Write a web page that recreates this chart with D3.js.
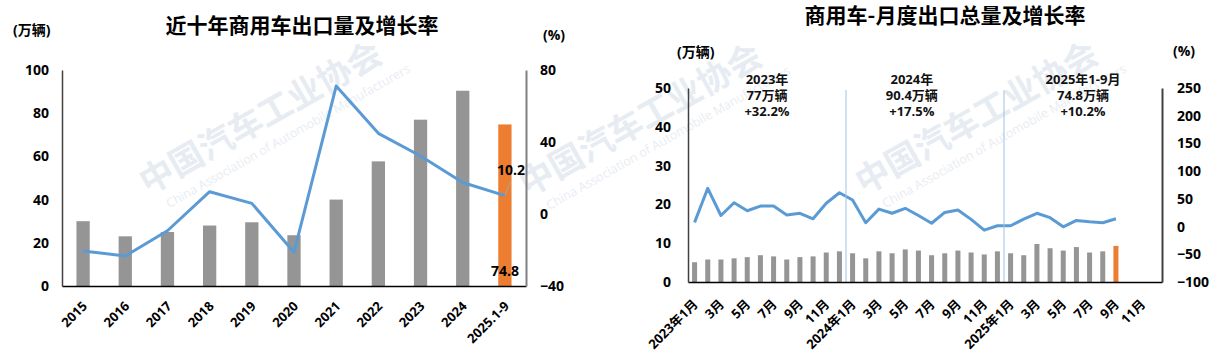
<!DOCTYPE html>
<html>
<head>
<meta charset="utf-8">
<script src="https://cdn.jsdelivr.net/npm/d3@7"></script>
<style>
  body { margin: 0; background: #fff; }
  svg { display: block; }
</style>
</head>
<body>
<svg id="page" width="1219" height="354"></svg>
<script>
// ---- yearly chart data
const years = ['2015', '2016', '2017', '2018', '2019', '2020', '2021', '2022', '2023', '2024', '2025.1-9'];
const yearlyVolume = [30, 23, 25, 28, 29.5, 23.5, 40, 57.7, 77, 90.4, 74.8];
const yearlyGrowth = [-20.5, -23.3, -9.3, 12.4, 5.9, -21.3, 71.1, 44.8, 32.2, 17.5, 10.2];
const yearlyLeftTicks = [0, 20, 40, 60, 80, 100];
const yearlyRightTicks = [-40, 0, 40, 80];

// ---- monthly chart data
const months = [
  '2023-01', '2023-02', '2023-03', '2023-04', '2023-05', '2023-06', '2023-07', '2023-08', '2023-09', '2023-10', '2023-11', '2023-12',
  '2024-01', '2024-02', '2024-03', '2024-04', '2024-05', '2024-06', '2024-07', '2024-08', '2024-09', '2024-10', '2024-11', '2024-12',
  '2025-01', '2025-02', '2025-03', '2025-04', '2025-05', '2025-06', '2025-07', '2025-08', '2025-09', '2025-10', '2025-11', '2025-12'
];
const monthTicks = ['2023-01', '2023-03', '2023-05', '2023-07', '2023-09', '2023-11',
  '2024-01', '2024-03', '2024-05', '2024-07', '2024-09', '2024-11',
  '2025-01', '2025-03', '2025-05', '2025-07', '2025-09', '2025-11'];
const monthTickLabels = ['2023年1月', '3月', '5月', '7月', '9月', '11月',
  '2024年1月', '3月', '5月', '7月', '9月', '11月',
  '2025年1月', '3月', '5月', '7月', '9月', '11月'];
const monthlyVolume = [
  5.1, 5.8, 5.8, 6.1, 6.4, 6.9, 6.6, 5.8, 6.4, 6.6, 7.6, 7.9,
  7.4, 6.1, 7.9, 7.4, 8.4, 8.1, 6.9, 7.4, 8.1, 7.6, 7.1, 7.9,
  7.4, 6.9, 9.8, 8.7, 8.1, 9.0, 7.6, 7.9, 9.3
];
const monthlyGrowth = [
  7.5, 69, 20, 43, 28.5, 37, 37, 21, 24, 14, 42, 61,
  48, 7, 31.5, 24, 33, 20, 6, 25.5, 30, 13, -6.5, 1.5,
  1.5, 13.5, 24, 16, -0.5, 11, 8.5, 7, 14
];
const monthlyLeftTicks = [0, 10, 20, 30, 40, 50];
const monthlyRightTicks = [-100, -50, 0, 50, 100, 150, 200, 250];
const yearDividers = ['2024-01', '2025-01'];
const yearNotes = [
  { at: '2023-07', lines: ['2023年', '77万辆', '+32.2%'] },
  { at: '2024-06', lines: ['2024年', '90.4万辆', '+17.5%'] },
  { at: '2025-07', lines: ['2025年1-9月', '74.8万辆', '+10.2%'] }
];

const FONT = "'Open Sans', 'Noto Sans CJK SC', sans-serif";
const CJK = "'Noto Sans CJK SC', sans-serif";

class ComboChart {
  constructor(_config) {
    this.config = {
      svg: _config.svg,
      left: _config.left,
      top: _config.top,
      width: _config.width,
      height: _config.height,
      categories: _config.categories,
      bars: _config.bars,
      line: _config.line,
      yDomain: _config.yDomain,
      y2Domain: _config.y2Domain,
      yTicks: _config.yTicks,
      y2Ticks: _config.y2Ticks,
      barPadding: _config.barPadding,
      leftPad: _config.leftPad,
      rightPad: _config.rightPad,
      rightAxisColor: _config.rightAxisColor || '#808080',
      labelShift: _config.labelShift,
      tickValues: _config.tickValues || _config.categories,
      tickFormat: _config.tickFormat || (d => d)
    };
    this.initVis();
  }

  initVis() {
    let vis = this;
    const c = vis.config;

    vis.chart = c.svg.append('g')
      .attr('transform', `translate(${c.left},${c.top})`);

    vis.xScale = d3.scaleBand()
      .domain(c.categories)
      .range([0, c.width])
      .paddingInner(c.barPadding)
      .paddingOuter(c.barPadding / 2);

    vis.yScale = d3.scaleLinear().domain(c.yDomain).range([c.height, 0]);
    vis.y2Scale = d3.scaleLinear().domain(c.y2Domain).range([c.height, 0]);

    vis.marks = vis.chart.append('g');
    vis.xAxisG = vis.chart.append('g').attr('transform', `translate(0,${c.height})`);
    vis.yAxisG = vis.chart.append('g');
    vis.y2AxisG = vis.chart.append('g').attr('transform', `translate(${c.width},0)`);

    vis.renderVis();
  }

  // left edge of a category's step (not of its bar)
  stepStart(cat) {
    let vis = this;
    return vis.xScale(cat) + vis.xScale.bandwidth() / 2 - vis.xScale.step() / 2;
  }

  center(cat) {
    return this.xScale(cat) + this.xScale.bandwidth() / 2;
  }

  renderVis() {
    let vis = this;
    const c = vis.config;
    const n = c.bars.length;
    const barData = c.bars.map((v, i) => ({ cat: c.categories[i], v: v, last: i === n - 1 }));
    const lineData = c.line.map((v, i) => ({ cat: c.categories[i], v: v }));

    vis.marks.selectAll('.bar')
      .data(barData)
      .join('rect')
      .attr('class', 'bar')
      .attr('x', d => vis.xScale(d.cat))
      .attr('width', vis.xScale.bandwidth())
      .attr('y', d => vis.yScale(d.v))
      .attr('height', d => vis.yScale(0) - vis.yScale(d.v))
      .attr('fill', d => d.last ? '#ed7d31' : '#959595');

    vis.line = d3.line()
      .x(d => vis.center(d.cat))
      .y(d => vis.y2Scale(d.v));

    vis.marks.append('path')
      .datum(lineData)
      .attr('d', vis.line)
      .attr('fill', 'none')
      .attr('stroke', '#5b9bd5')
      .attr('stroke-width', 3)
      .attr('stroke-linejoin', 'round');

    // axes
    vis.yAxisG.call(d3.axisLeft(vis.yScale).tickValues(c.yTicks).tickSize(0).tickPadding(c.leftPad));
    vis.y2AxisG.call(d3.axisRight(vis.y2Scale).tickValues(c.y2Ticks).tickSize(0).tickPadding(c.rightPad));
    vis.xAxisG.call(d3.axisBottom(vis.xScale).tickValues(c.tickValues).tickFormat(c.tickFormat).tickSize(0));

    [vis.yAxisG, vis.y2AxisG, vis.xAxisG].forEach(g => {
      g.attr('font-family', FONT).attr('font-size', 14).attr('font-weight', 'bold');
      g.selectAll('text').attr('fill', '#000');
    });
    vis.yAxisG.select('.domain').attr('stroke', '#404040').attr('stroke-width', 1.5);
    vis.y2AxisG.select('.domain').attr('stroke', c.rightAxisColor).attr('stroke-width', 2);
    vis.xAxisG.select('.domain').attr('stroke', '#000').attr('stroke-width', 1.5);

    vis.xAxisG.attr('font-size', 13);
    vis.xAxisG.selectAll('text')
      .attr('x', 0).attr('y', 0).attr('dy', 0)
      .attr('text-anchor', 'end')
      .attr('transform', `translate(${c.labelShift[0]},${c.labelShift[1]}) rotate(-45)`);
  }
}

const svg = d3.select('#page').style('font-family', FONT);

// watermarks (drawn first so everything sits on top)
const watermarks = svg.append('g').attr('fill', '#e7ecf2');
[[148, 195], [528, 197], [864, 195]].forEach(([x, y]) => {
  const g = watermarks.append('g').attr('transform', `translate(${x},${y}) rotate(-29.5)`);
  g.append('text').attr('font-family', CJK).attr('font-weight', 'bold').attr('font-size', 34)
    .text('中国汽车工业协会');
  g.append('text').attr('x', 12).attr('y', 22).attr('font-size', 12.5).attr('fill', '#e9edf3')
    .text('China Association of Automobile Manufacturers');
});

// ---- left chart
const yearly = new ComboChart({
  svg: svg,
  left: 62, top: 70, width: 464, height: 216,
  categories: years,
  bars: yearlyVolume,
  line: yearlyGrowth,
  yDomain: [0, 100], y2Domain: [-40, 80],
  yTicks: yearlyLeftTicks, y2Ticks: yearlyRightTicks,
  barPadding: 0.685,
  leftPad: 13, rightPad: 14,
  rightAxisColor: '#808080',
  labelShift: [5, 21]
});

const lastYear = years[years.length - 1];
const lx = yearly.center(lastYear);
const lyG = yearly.y2Scale(yearlyGrowth[yearlyGrowth.length - 1]);
yearly.chart.append('line')
  .attr('x1', lx).attr('y1', lyG)
  .attr('x2', lx + 5).attr('y2', lyG - 13)
  .attr('stroke', '#a6a6a6').attr('stroke-width', 1);
yearly.chart.append('text')
  .attr('x', lx - 8).attr('y', lyG - 21)
  .attr('font-size', 14).attr('font-weight', 'bold').attr('fill', '#000')
  .text(yearlyGrowth[yearlyGrowth.length - 1].toFixed(1));
yearly.chart.append('text')
  .attr('x', lx).attr('y', yearly.yScale(0) - 10)
  .attr('text-anchor', 'middle')
  .attr('font-size', 14).attr('font-weight', 'bold').attr('fill', '#000')
  .text(yearlyVolume[yearlyVolume.length - 1].toFixed(1));

svg.append('text').attr('x', 302).attr('y', 33).attr('text-anchor', 'middle')
  .attr('font-family', CJK).attr('font-weight', 'bold').attr('font-size', 21)
  .text('近十年商用车出口量及增长率');
svg.append('text').attr('x', 13).attr('y', 35)
  .attr('font-weight', 'bold').attr('font-size', 14).text('(万辆)');
svg.append('text').attr('x', 543).attr('y', 40)
  .attr('font-weight', 'bold').attr('font-size', 14).text('(%)');

// ---- right chart
const monthly = new ComboChart({
  svg: svg,
  left: 688, top: 88, width: 474, height: 194,
  categories: months,
  bars: monthlyVolume,
  line: monthlyGrowth,
  yDomain: [0, 50], y2Domain: [-100, 250],
  yTicks: monthlyLeftTicks, y2Ticks: monthlyRightTicks,
  barPadding: 0.62,
  leftPad: 17, rightPad: 15,
  rightAxisColor: '#404040',
  labelShift: [4, 23],
  tickValues: monthTicks,
  tickFormat: d => monthTickLabels[monthTicks.indexOf(d)]
});

monthly.marks.selectAll('.divider')
  .data(yearDividers)
  .join('line')
  .attr('class', 'divider')
  .attr('x1', d => monthly.stepStart(d)).attr('x2', d => monthly.stepStart(d))
  .attr('y1', 2).attr('y2', monthly.config.height)
  .attr('stroke', '#9dc3e6').attr('stroke-width', 1);

yearNotes.forEach(note => {
  const t = monthly.chart.append('text')
    .attr('x', monthly.stepStart(note.at))
    .attr('text-anchor', 'middle')
    .attr('font-size', 13).attr('font-weight', 'bold').attr('fill', '#111');
  note.lines.forEach((line, i) => {
    t.append('tspan').attr('x', monthly.stepStart(note.at)).attr('y', -4 + i * 16).text(line);
  });
});

svg.append('text').attr('x', 945).attr('y', 23).attr('text-anchor', 'middle')
  .attr('font-family', CJK).attr('font-weight', 'bold').attr('font-size', 21)
  .text('商用车-月度出口总量及增长率');
svg.append('text').attr('x', 677).attr('y', 57)
  .attr('font-weight', 'bold').attr('font-size', 14).text('(万辆)');
svg.append('text').attr('x', 1173).attr('y', 56)
  .attr('font-weight', 'bold').attr('font-size', 14).text('(%)');
</script>
</body>
</html>
